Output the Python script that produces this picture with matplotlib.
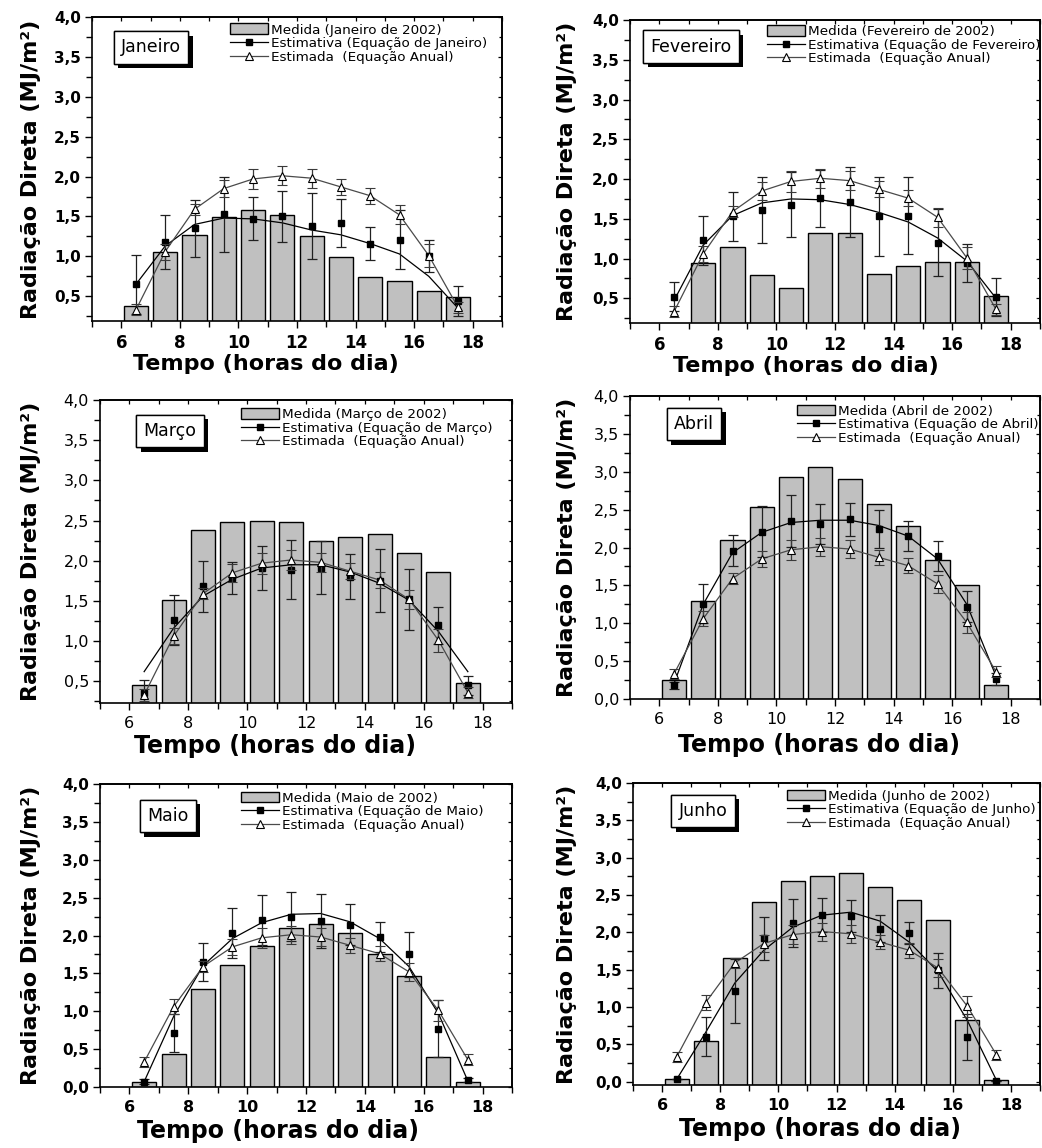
import matplotlib
matplotlib.use("Agg")
import matplotlib.pyplot as plt
import matplotlib.patheffects as pe
from matplotlib.patches import Patch
from matplotlib.lines import Line2D
from matplotlib.ticker import FuncFormatter, MultipleLocator

# ---------------------------------------------------------------- data
hours = [6.5, 7.5, 8.5, 9.5, 10.5, 11.5, 12.5, 13.5, 14.5, 15.5, 16.5, 17.5]

# Annual equation (same for every month)
anual_estimada = [0.33, 1.06, 1.59, 1.85, 1.97, 2.01, 1.98, 1.87, 1.76, 1.52, 1.01, 0.36]
anual_err = [0.07, 0.10, 0.07, 0.11, 0.13, 0.12, 0.12, 0.10, 0.10, 0.12, 0.14, 0.07]

meses = ["Janeiro", "Fevereiro", "Março", "Abril", "Maio", "Junho"]

jan_medida = [0.38, 1.06, 1.27, 1.49, 1.58, 1.52, 1.25, 0.99, 0.74, 0.69, 0.56, 0.49]
jan_estimativa = [0.65, 1.18, 1.35, 1.53, 1.47, 1.50, 1.38, 1.42, 1.16, 1.21, 1.00, 0.44]
jan_err = [0.37, 0.34, 0.36, 0.47, 0.27, 0.32, 0.41, 0.30, 0.21, 0.37, 0.20, 0.19]
jan_curva = [0.65, 1.13, 1.40, 1.48, 1.47, 1.42, 1.33, 1.27, 1.16, 1.03, 0.75, 0.35]

fev_medida = [0.10, 0.95, 1.15, 0.79, 0.63, 1.32, 1.32, 0.80, 0.91, 0.96, 0.96, 0.53]
fev_estimativa = [0.52, 1.23, 1.53, 1.61, 1.68, 1.76, 1.71, 1.53, 1.54, 1.20, 0.94, 0.52]
fev_err = [0.18, 0.31, 0.31, 0.42, 0.41, 0.36, 0.44, 0.50, 0.48, 0.42, 0.24, 0.24]
fev_curva = [0.47, 1.17, 1.54, 1.70, 1.75, 1.74, 1.68, 1.58, 1.46, 1.26, 0.97, 0.50]

mar_medida = [0.45, 1.51, 2.38, 2.48, 2.49, 2.48, 2.25, 2.30, 2.33, 2.10, 1.86, 0.48]
mar_estimativa = [0.36, 1.26, 1.68, 1.78, 1.91, 1.89, 1.91, 1.80, 1.75, 1.52, 1.20, 0.45]
mar_err = [0.15, 0.31, 0.32, 0.20, 0.27, 0.37, 0.33, 0.28, 0.39, 0.38, 0.23, 0.12]
mar_curva = [0.62, 1.16, 1.56, 1.77, 1.91, 1.95, 1.95, 1.86, 1.72, 1.51, 1.12, 0.62]

abr_medida = [0.25, 1.30, 2.10, 2.54, 2.93, 3.06, 2.91, 2.57, 2.29, 1.83, 1.50, 0.19]
abr_estimativa = [0.18, 1.26, 1.96, 2.21, 2.35, 2.31, 2.37, 2.25, 2.15, 1.89, 1.22, 0.26]
abr_err = [0.05, 0.26, 0.20, 0.34, 0.34, 0.27, 0.22, 0.25, 0.20, 0.20, 0.20, 0.08]
abr_curva = [0.20, 1.25, 1.93, 2.20, 2.33, 2.36, 2.36, 2.29, 2.15, 1.85, 1.25, 0.30]

mai_medida = [0.07, 0.43, 1.29, 1.61, 1.86, 2.10, 2.15, 2.03, 1.76, 1.46, 0.39, 0.06]
mai_estimativa = [0.07, 0.71, 1.65, 2.03, 2.21, 2.25, 2.19, 2.14, 1.98, 1.75, 0.77, 0.09]
mai_err = [0.03, 0.25, 0.25, 0.33, 0.33, 0.32, 0.36, 0.27, 0.20, 0.30, 0.38, 0.03]
mai_curva = [0.07, 0.93, 1.60, 1.96, 2.17, 2.28, 2.29, 2.18, 1.96, 1.59, 0.97, 0.08]

jun_medida = [0.03, 0.54, 1.65, 2.41, 2.69, 2.76, 2.80, 2.61, 2.43, 2.17, 0.82, 0.02]
jun_estimativa = [0.03, 0.60, 1.21, 1.92, 2.13, 2.23, 2.22, 2.05, 1.99, 1.49, 0.60, 0.01]
jun_err = [0.0, 0.26, 0.43, 0.29, 0.32, 0.23, 0.21, 0.18, 0.15, 0.23, 0.31, 0.0]
jun_curva = [0.03, 0.66, 1.32, 1.76, 2.07, 2.23, 2.27, 2.15, 1.87, 1.47, 0.82, 0.02]

series = [
    (jan_medida, jan_estimativa, jan_err, jan_curva),
    (fev_medida, fev_estimativa, fev_err, fev_curva),
    (mar_medida, mar_estimativa, mar_err, mar_curva),
    (abr_medida, abr_estimativa, abr_err, abr_curva),
    (mai_medida, mai_estimativa, mai_err, mai_curva),
    (jun_medida, jun_estimativa, jun_err, jun_curva),
]

# ---------------------------------------------------------------- layout (pixels)
W, H = 1042, 1148
fig = plt.figure(figsize=(W / 100, H / 100), dpi=100)
fig.patch.set_facecolor("white")


def fx(x):
    return x / W


def fy(y):
    return 1 - y / H


# per panel: axes box (l, t, r, b), y-lim bottom, bold ticks, x/y tick sizes,
# month-label centre, legend anchor, x-label centre & size, y-label centre
panels = [
    dict(box=(92, 17, 502, 321), ymin=0.19, bold=True, xts=12, yts=11,
         tag=(151, 47.5), leg=(230, 23.5), xl=(266, 364, 16), yl=(31, 169)),
    dict(box=(630, 20, 1040, 323), ymin=0.19, bold=True, xts=12, yts=11,
         tag=(691, 46.7), leg=(767, 25.0), xl=(806, 366, 16), yl=(567, 171)),
    dict(box=(100, 400, 512, 703), ymin=0.23, bold=False, xts=11.5, yts=11.5,
         tag=(170, 431), leg=(241, 408), xl=(275, 746, 17), yl=(31, 551)),
    dict(box=(630, 396, 1040, 699), ymin=0.0, bold=False, xts=11.5, yts=11.5,
         tag=(694, 424), leg=(797, 404.5), xl=(819, 745, 17), yl=(567, 547)),
    dict(box=(100, 784, 512, 1087), ymin=0.0, bold=True, xts=11.5, yts=11,
         tag=(168, 816), leg=(241, 791.5), xl=(278, 1131, 17), yl=(31, 935)),
    dict(box=(633, 783, 1040, 1085), ymin=-0.045, bold=True, xts=11.5, yts=11,
         tag=(703, 811), leg=(787, 789.5), xl=(820, 1129, 17), yl=(567, 934)),
]

bar_face = "#c0c0c0"
comma_fmt = FuncFormatter(lambda v, p: f"{v:.1f}".replace(".", ","))
ident = (lambda v: v, lambda v: v)

for mes, (medida, estimativa, err, curva), cfg in zip(meses, series, panels):
    l, t, r, b = cfg["box"]
    ax = fig.add_axes([fx(l), fy(b), (r - l) / W, (b - t) / H])
    ax.set_xlim(5, 19)
    ax.set_ylim(cfg["ymin"], 4.0)

    # measured bars, rising from the bottom of the frame
    base = min(cfg["ymin"], 0.0)
    ax.bar(hours, [v - base for v in medida], bottom=base, width=0.82,
           color=bar_face, edgecolor="black", linewidth=1.0, zorder=1)

    # fitted curves
    ax.plot(hours, curva, color="black", lw=0.9, zorder=3)
    ax.plot(hours, anual_estimada, color="#4a4a4a", lw=0.9, zorder=3)

    # monthly equation points
    ax.errorbar(hours, estimativa, yerr=err, fmt="s", ms=4.6, mfc="black",
                mec="black", ecolor="#202020", elinewidth=0.9, capsize=3.8,
                capthick=0.9, zorder=4)
    # annual equation points
    ax.errorbar(hours, anual_estimada, yerr=anual_err, fmt="^", ms=5.6,
                mfc="white", mec="black", mew=0.8, ecolor="#3a3a3a",
                elinewidth=0.9, capsize=3.8, capthick=0.9, zorder=5)

    # axes styling
    for s in ax.spines.values():
        s.set_linewidth(1.2)
    weight = "bold" if cfg["bold"] else "normal"
    ax.xaxis.set_major_locator(MultipleLocator(2))
    ax.xaxis.set_minor_locator(MultipleLocator(1))
    ax.yaxis.set_major_locator(MultipleLocator(0.5))
    ax.yaxis.set_minor_locator(MultipleLocator(0.25))
    ax.yaxis.set_major_formatter(comma_fmt)
    ax.set_xticks([6, 8, 10, 12, 14, 16, 18])
    ax.tick_params(axis="both", which="major", direction="out", length=5,
                   width=1.0, pad=3)
    ax.tick_params(axis="both", which="minor", direction="out", length=4,
                   width=1.0)
    ax.tick_params(axis="x", labelsize=cfg["xts"], pad=4)
    ax.tick_params(axis="y", labelsize=cfg["yts"])
    for lab in ax.get_xticklabels() + ax.get_yticklabels():
        lab.set_fontweight(weight)

    # inner ticks on top and right
    top = ax.secondary_xaxis("top", functions=ident)
    top.xaxis.set_major_locator(MultipleLocator(2))
    top.xaxis.set_minor_locator(MultipleLocator(1))
    top.tick_params(which="both", direction="in", length=3, width=0.9,
                    labeltop=False)
    top.spines["top"].set_linewidth(1.2)
    right = ax.secondary_yaxis("right", functions=ident)
    right.yaxis.set_major_locator(MultipleLocator(0.5))
    right.yaxis.set_minor_locator(MultipleLocator(0.25))
    right.tick_params(which="major", direction="in", length=3, width=0.9,
                      labelright=False)
    right.tick_params(which="minor", direction="in", length=2, width=0.9,
                      labelright=False)
    right.spines["right"].set_linewidth(1.2)

    # month tag with drop shadow
    tx, ty = cfg["tag"]
    tag = fig.text(fx(tx), fy(ty), mes, ha="center", va="center", fontsize=12.5,
                   zorder=10,
                   bbox=dict(boxstyle="square,pad=0.42", fc="white", ec="black",
                             lw=1.0))
    tag.get_bbox_patch().set_path_effects([
        pe.withSimplePatchShadow(offset=(3.2, -3.2), shadow_rgbFace="black",
                                 alpha=1.0),
        pe.Normal()])

    # legend
    handles = [
        Patch(facecolor=bar_face, edgecolor="black", linewidth=1.0),
        Line2D([], [], color="black", lw=0.9, marker="s", ms=4.6, mfc="black",
               mec="black"),
        Line2D([], [], color="#4a4a4a", lw=0.9, marker="^", ms=5.6,
               mfc="white", mec="black", mew=0.8),
    ]
    labels = [f"Medida ({mes} de 2002)",
              f"Estimativa (Equação de {mes})",
              "Estimada  (Equação Anual)"]
    lx, ly = cfg["leg"]
    fig.legend(handles, labels, loc="upper left",
               bbox_to_anchor=(fx(lx), fy(ly)), frameon=False,
               fontsize=9.7, handlelength=2.8, handleheight=0.85,
               handletextpad=0.25, labelspacing=0.05, borderpad=0,
               borderaxespad=0, numpoints=1)

    # axis titles
    xlx, xly, xls = cfg["xl"]
    fig.text(fx(xlx), fy(xly), "Tempo (horas do dia)", ha="center",
             va="center", fontsize=xls, fontweight="bold")
    ylx, yly = cfg["yl"]
    fig.text(fx(ylx), fy(yly), "Radiação Direta (MJ/m²)", ha="center",
             va="center", rotation=90, fontsize=16, fontweight="bold")

fig.savefig("out.png", dpi=100, facecolor="white")
